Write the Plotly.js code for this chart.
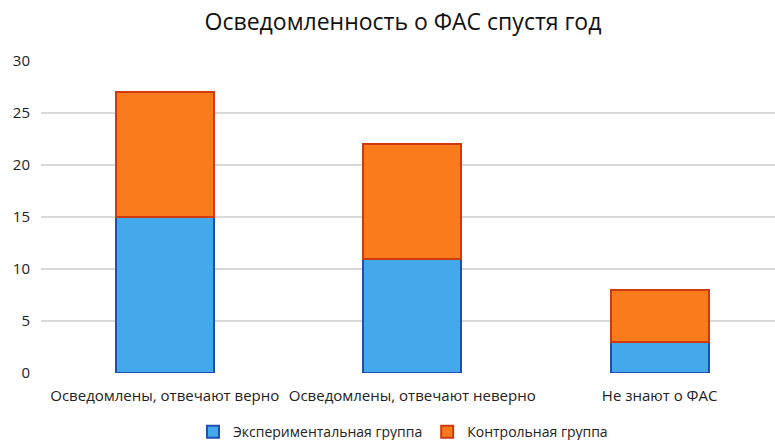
<!DOCTYPE html>
<html>
<head>
<meta charset="utf-8">
<script src="https://cdn.plot.ly/plotly-3.0.1.min.js"></script>
<style>html,body{margin:0;padding:0;background:#fff;}#chart{width:775px;height:440px;}</style>
</head>
<body>
<div id="chart"></div>
<script>
var categories = ["Осведомлены, отвечают верно", "Осведомлены, отвечают неверно", "Не знают о ФАС"];
var experimental = [15, 11, 3];
var control = [12, 11, 5];
var seriesNames = ["Экспериментальная группа", "Контрольная группа"];
var yTicks = [0, 5, 10, 15, 20, 25, 30];

var traces = [
  {type: "bar", name: seriesNames[0], x: categories, y: experimental,
   marker: {color: "#43a9ea", line: {color: "#1f4fb0", width: 2}}, hoverinfo: "y"},
  {type: "bar", name: seriesNames[1], x: categories, y: control,
   marker: {color: "#f97b1b", line: {color: "#cf3a0c", width: 2}}, hoverinfo: "y"}
];

var layout = {
  width: 775, height: 440,
  barmode: "stack", bargap: 0.604,
  margin: {l: 41, r: 0, t: 61, b: 67},
  paper_bgcolor: "#fff", plot_bgcolor: "#fff",
  font: {family: "Open Sans, Noto Sans, sans-serif", color: "#333", size: 13},
  title: {text: "Осведомленность о ФАС спустя год", x: 0.52, xanchor: "center", y: 0.95, yanchor: "middle",
          font: {size: 23, color: "#111", family: "Open Sans, Noto Sans, sans-serif"}},
  xaxis: {type: "category", range: [-0.5, 2.466], tickfont: {size: 15, color: "#222"}, showgrid: false, zeroline: false,
          showline: false, ticks: "", ticklabelstandoff: 12, automargin: false},
  yaxis: {range: [0, 30], tickvals: yTicks, ticktext: yTicks.map(String), showgrid: true,
          gridcolor: "#d9d9d9", gridwidth: 2, zeroline: false, showline: false, ticks: "",
          tickfont: {size: 15, color: "#222"}, ticklen: 0, ticklabelstandoff: 10, automargin: false},
  legend: {orientation: "h", x: 0.52, xanchor: "center", xref: "container", yref: "container", y: 0.018, yanchor: "middle",
           font: {size: 14, color: "#222"}, traceorder: "normal", itemwidth: 30},
  showlegend: true
};

Plotly.newPlot("chart", traces, layout, {displayModeBar: false, staticPlot: true});
</script>
</body>
</html>
